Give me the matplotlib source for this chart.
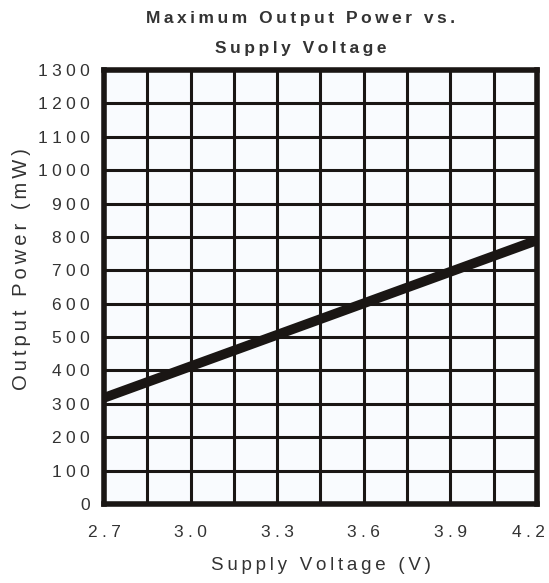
import numpy as np
import matplotlib
matplotlib.use("Agg")
import matplotlib.pyplot as plt
from matplotlib.transforms import ScaledTranslation

# data
voltage = [2.7, 4.2]
power = [318, 790]
x_ticks = [2.7, 3.0, 3.3, 3.6, 3.9, 4.2]
x_labels = ["2.7", "3.0", "3.3", "3.6", "3.9", "4.2"]
y_ticks = list(range(0, 1301, 100))

plt.rcParams["font.family"] = ["Liberation Sans", "DejaVu Sans"]
TXT = "#333333"
INK = "#1a1614"

def spaced(s, gap="\u2009"):
    # the original artwork uses wide letter spacing
    return gap.join(s)

fig = plt.figure(figsize=(5.49, 5.83), dpi=100)
ax = fig.add_axes([104/549, 1-504/583, 433/549, 434/583])
ax.set_facecolor("#f9fbfe")

ax.set_xlim(2.7, 4.2)
ax.set_ylim(0, 1300)
ax.set_xticks(x_ticks)
ax.set_xticklabels([spaced(t, "\u2005") for t in x_labels])
ax.set_xticks(np.arange(2.85, 4.2, 0.3), minor=True)
ax.set_yticks(y_ticks)
ax.set_yticklabels([spaced(str(v), "\u2005") for v in y_ticks])
ax.grid(True, which="both", color=INK, lw=2.2)
ax.set_axisbelow(True)
ax.tick_params(which="both", length=0, labelsize=12.5, colors=TXT)
ax.tick_params(axis="x", pad=15)
ax.tick_params(axis="y", pad=10)
for sp in ax.spines.values():
    sp.set_color(INK)
    sp.set_linewidth(4)

# last x label sits a little inside the right edge in the original
last = ax.get_xticklabels()[-1]
last.set_transform(last.get_transform() + ScaledTranslation(-0.09, 0, fig.dpi_scale_trans))

ax.plot(voltage, power, color=INK, lw=7, solid_capstyle="butt", zorder=3)

ax.set_xlabel(spaced("Supply Voltage (V)"), fontsize=13.5, color=TXT, labelpad=12)
ax.set_ylabel(spaced("Output Power (mW)"), fontsize=14.5, color=TXT)
ax.yaxis.set_label_coords(-73/433, (504-269)/434)
fig.text(301/549, 1-19/583, spaced("Maximum Output Power vs."), ha="center", va="center",
         fontsize=12.5, fontweight="bold", color=TXT)
fig.text(301/549, 1-49/583, spaced("Supply Voltage"), ha="center", va="center",
         fontsize=12.5, fontweight="bold", color=TXT)

fig.savefig("out.png", dpi=100)
